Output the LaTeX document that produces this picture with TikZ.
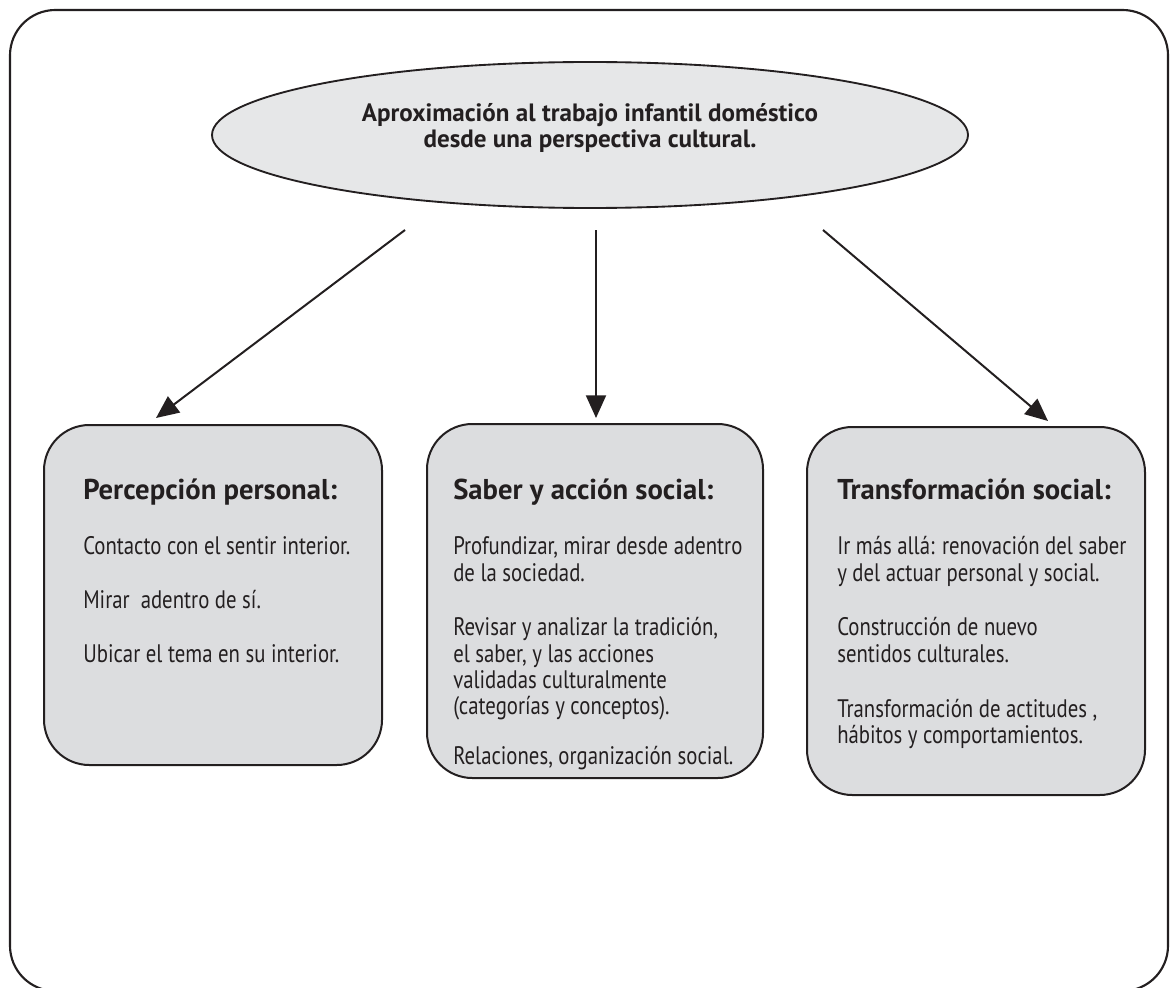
\documentclass[tikz,border=0pt]{standalone}
\usepackage{fontspec}
\usetikzlibrary{arrows.meta,shapes.geometric}
\newfontfamily\bodyfont[FakeStretch=0.82]{PT Sans}
\newfontfamily\headfont{PT Sans}
\definecolor{ink}{HTML}{231F20}
\definecolor{ellfill}{HTML}{E6E7E8}
\definecolor{boxfill}{HTML}{DCDDDF}
\begin{document}
\begin{tikzpicture}[x=0.75pt,y=-0.75pt,
  frame/.style={draw=ink,line width=1.6pt,rounded corners=34pt},
  panel/.style={draw=ink,fill=boxfill,line width=1.5pt,rounded corners=34pt,inner sep=0pt},
  oval/.style={ellipse,draw=ink,fill=ellfill,line width=1.4pt,inner sep=0pt,minimum width=567pt,minimum height=109.5pt},
  txt/.style={anchor=base west,inner sep=0pt,text=ink,font=\bodyfont\fontsize{19}{23}\selectfont},
  head/.style={anchor=base west,inner sep=0pt,text=ink,font=\headfont\bfseries\fontsize{21.5}{25}\selectfont},
  ttl/.style={anchor=base,inner sep=0pt,text=ink,font=\headfont\bfseries\fontsize{18.8}{23}\selectfont},
  arr/.style={draw=ink,line width=1.5pt,-{Triangle[length=17pt,width=15pt]}}]
\useasboundingbox (0,0) rectangle (1170,988);
\draw[frame] (10,10) rectangle (1168,991);
% title
\node[oval] (oval) at (590,135) {};
\node[ttl] (t1) at (590,122) {Aproximación al trabajo infantil doméstico};
\node[ttl] (t2) at (590,148) {desde una perspectiva cultural.};
% panels
\node[panel,minimum width=253.5pt,minimum height=255pt] (p1) at (213,595) {};
\node[panel,minimum width=252pt,minimum height=265.5pt] (p2) at (595,601) {};
\node[panel,minimum width=253.5pt,minimum height=276pt] (p3) at (976,611) {};
% arrows
\coordinate (a1s) at (405,230); \coordinate (a1e) at (156,418);
\coordinate (a2s) at (596,230); \coordinate (a2e) at (596,418);
\coordinate (a3s) at (823,230); \coordinate (a3e) at (1048,421);
\draw[arr] (a1s) -- (a1e);
\draw[arr] (a2s) -- (a2e);
\draw[arr] (a3s) -- (a3e);
% left panel text
\node[head] (h1) at (83,499) {Percepción personal:};
\node[txt] (l1) at (83,554) {Contacto con el sentir interior.};
\node[txt] (l2) at (83,608) {Mirar\ \ adentro de sí.};
\node[txt] (l3) at (83,662) {Ubicar el tema en su interior.};
% middle panel text
\node[head] (h2) at (453,499) {Saber y acción social:};
\node[txt] (m1) at (453,554) {Profundizar, mirar desde adentro};
\node[txt] (m2) at (453,581) {de la sociedad.};
\node[txt] (m3) at (453,635) {Revisar y analizar la tradición,};
\node[txt] (m4) at (453,662) {el saber, y las acciones};
\node[txt] (m5) at (453,688) {validadas culturalmente};
\node[txt] (m6) at (453,714) {(categorías y conceptos).};
\node[txt] (m7) at (453,764) {Relaciones, organización social.};
% right panel text
\node[head] (h3) at (837,499) {Transformación social:};
\node[txt] (r1) at (837,554) {Ir más allá: renovación del saber};
\node[txt] (r2) at (837,581) {y del actuar personal y social.};
\node[txt] (r3) at (837,635) {Construcción de nuevo};
\node[txt] (r4) at (837,662) {sentidos culturales.};
\node[txt] (r5) at (837,717) {Transformación de actitudes ,};
\node[txt] (r6) at (837,743) {hábitos y comportamientos.};
\end{tikzpicture}
\end{document}
